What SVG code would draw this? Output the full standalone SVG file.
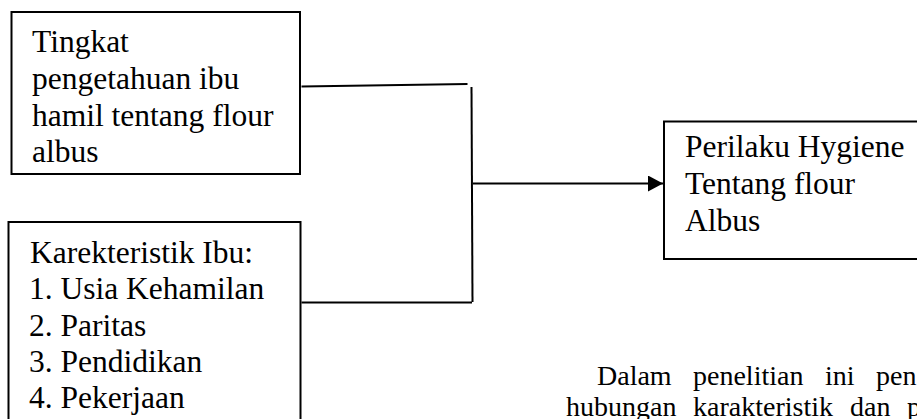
<svg xmlns="http://www.w3.org/2000/svg" width="917" height="419" viewBox="0 0 917 419">
<style>
.box{fill:#fff;stroke:#000;stroke-width:2}
.t{font-family:"Liberation Serif","Times New Roman",serif;font-size:31.5px;fill:#000}
.b{font-family:"Liberation Serif","Times New Roman",serif;font-size:28px;fill:#000}
.c{fill:none;stroke:#000;stroke-width:2}
</style>
<defs>
<marker id="ah" markerUnits="userSpaceOnUse" markerWidth="16" markerHeight="16" refX="15" refY="8" orient="auto">
<path d="M0,0 L15,8 L0,16 Z" fill="#000"/>
</marker>
</defs>
<rect width="917" height="419" fill="#fff"/>
<g id="connectors">
<path class="c" d="M301.5,86.5 L467.5,84"/>
<path class="c" d="M471.5,87 L472.5,302"/>
<path class="c" d="M301.5,302.5 L472,302.5"/>
<line class="c" x1="473" y1="183.5" x2="663" y2="183.5" marker-end="url(#ah)"/>
</g>
<g id="node-pengetahuan">
<rect class="box" x="11.5" y="12" width="288.5" height="162"/>
<text class="t" x="32" y="52">Tingkat</text>
<text class="t" x="32" y="89">pengetahuan ibu</text>
<text class="t" x="32" y="126">hamil tentang flour</text>
<text class="t" x="32" y="162">albus</text>
</g>
<g id="node-karakteristik">
<rect class="box" x="8.5" y="222" width="292" height="220"/>
<text class="t" x="30" y="263">Karekteristik Ibu:</text>
<text class="t" x="29" y="299">1. Usia Kehamilan</text>
<text class="t" x="29" y="336">2. Paritas</text>
<text class="t" x="29" y="372">3. Pendidikan</text>
<text class="t" x="29" y="408">4. Pekerjaan</text>
</g>
<g id="node-perilaku">
<rect class="box" x="664" y="121.5" width="280" height="137.5"/>
<text class="t" x="685" y="157">Perilaku Hygiene</text>
<text class="t" x="685" y="194">Tentang flour</text>
<text class="t" x="685" y="231">Albus</text>
</g>
<g id="paragraph">
<text class="b" y="385"><tspan x="597">Dalam</tspan><tspan x="693">penelitian</tspan><tspan x="825">ini</tspan><tspan x="876">pen</tspan></text>
<text class="b" y="416"><tspan x="566">hubungan</tspan><tspan x="693">karakteristik</tspan><tspan x="850">dan</tspan><tspan x="907">p</tspan></text>
</g>
</svg>
